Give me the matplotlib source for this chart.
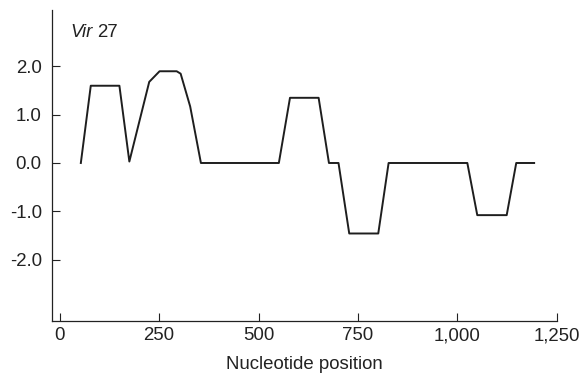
import matplotlib
matplotlib.use("Agg")
import matplotlib.pyplot as plt

# Values (Vir 27 profile)
positions = [53, 78, 150, 175, 225, 251, 294, 304, 328, 355, 551, 579, 651,
             677, 701, 728, 801, 827, 1025, 1050, 1124, 1148, 1193]
scores = [0.0, 1.6, 1.6, 0.03, 1.68, 1.9, 1.9, 1.85, 1.17, 0.0, 0.0, 1.35, 1.35,
          0.0, 0.0, -1.46, -1.46, 0.0, 0.0, -1.08, -1.08, 0.0, 0.0]
x_ticks = [0, 250, 500, 750, 1000, 1250]
x_labels = ["0", "250", "500", "750", "1,000", "1,250"]
y_ticks = [2.0, 1.0, 0.0, -1.0, -2.0]
y_labels = ["2.0", "1.0", "0.0", "-1.0", "-2.0"]

plt.rcParams['font.family'] = ['Liberation Sans', 'DejaVu Sans']
plt.rcParams['font.size'] = 13.4

fig = plt.figure(figsize=(5.82, 3.82), dpi=100)
ax = fig.add_axes([0.0897, 0.160, 0.867, 0.814])

ax.plot(positions, scores, color='#1e1e1e', linewidth=1.4)

ax.set_xlim(-19, 1250)
ax.set_ylim(-3.27, 3.17)
ax.set_xticks(x_ticks)
ax.set_xticklabels(x_labels)
ax.set_yticks(y_ticks)
ax.set_yticklabels(y_labels)
ax.tick_params(direction='in', length=6, width=0.8, color='#222222',
               labelcolor='#222222')
ax.tick_params(axis='x', pad=4.5)
ax.tick_params(axis='y', pad=7.5)

for side in ['top', 'right']:
    ax.spines[side].set_visible(False)
for side in ['left', 'bottom']:
    ax.spines[side].set_linewidth(0.9)
    ax.spines[side].set_color('#222222')

ax.set_xlabel("Nucleotide position", color='#222222', labelpad=8.5)

# Title inside plot: italic "Vir" followed by upright "27"
t = ax.text(0.037, 0.929, "Vir", transform=ax.transAxes, style='italic',
            va='center', ha='left', color='#222222')
fig.canvas.draw()
bb = t.get_window_extent().transformed(ax.transAxes.inverted())
ax.text(bb.x1 + 0.007, 0.929, "27", transform=ax.transAxes,
        va='center', ha='left', color='#222222')

fig.savefig("out.png", dpi=100)
